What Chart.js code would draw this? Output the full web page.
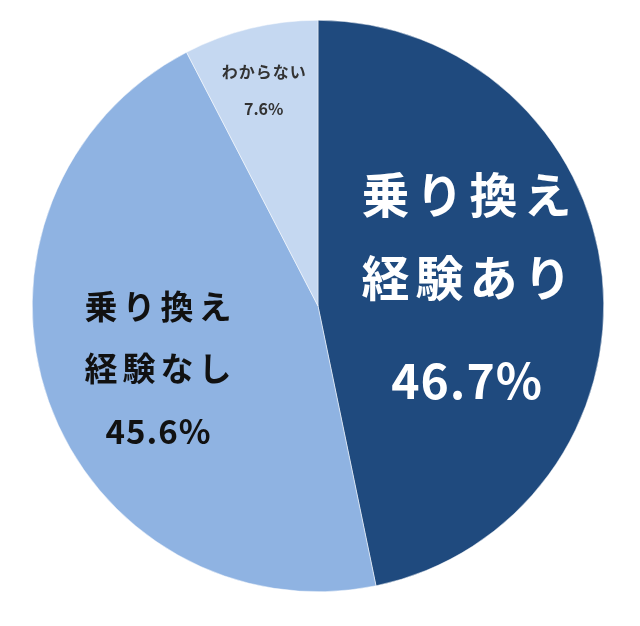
<!DOCTYPE html>
<html>
<head>
<meta charset="utf-8">
<script src="https://cdn.jsdelivr.net/npm/chart.js@4/dist/chart.umd.min.js"></script>
<style>
  html, body { margin: 0; padding: 0; background: #fff; }
  #wrap { width: 640px; height: 626px; }
</style>
</head>
<body>
<div id="wrap"><canvas id="pie"></canvas></div>
<script>
// data
const categories = ["乗り換え経験あり", "乗り換え経験なし", "わからない"];
const shares = [46.7, 45.6, 7.6];
const sliceColors = ["#1f4a7e", "#8fb3e2", "#c5d8f1"];

// label lines per slice (text only)
const labelLines = [
  ["乗り換え", "経験あり", "46.7%"],
  ["乗り換え", "経験なし", "45.6%"],
  ["わからない", "7.6%"]
];

const FONT = '"Noto Sans CJK JP", "Noto Sans", sans-serif';

// where each label sits, as fractions of the radius from the pie centre
const labelStyle = [
  { dx: 0.52, dy: [-0.39, -0.10, 0.26], size: [48, 48, 48], spacing: [6, 6, 1], color: "#ffffff" },
  { dx: -0.56, dy: [0.00, 0.22, 0.44], size: [33, 33, 33], spacing: [5, 5, 1], color: "#111111" },
  { dx: -0.19, dy: [-0.82, -0.69], size: [16, 16], spacing: [1, 0], color: "#333333" }
];

const sliceLabels = {
  id: "sliceLabels",
  afterDatasetsDraw(chart) {
    const ctx = chart.ctx;
    const meta = chart.getDatasetMeta(0);
    const first = meta.data[0];
    const cx = first.x, cy = first.y, r = first.outerRadius;
    ctx.save();
    ctx.textAlign = "center";
    ctx.textBaseline = "middle";
    labelLines.forEach(function (lines, i) {
      const st = labelStyle[i];
      ctx.fillStyle = st.color;
      lines.forEach(function (txt, j) {
        ctx.font = "bold " + st.size[j] + "px " + FONT;
        ctx.letterSpacing = st.spacing[j] + "px";
        ctx.fillText(txt, cx + st.dx * r + st.spacing[j] / 2, cy + st.dy[j] * r);
      });
    });
    ctx.restore();
  }
};

const ctx = document.getElementById("pie").getContext("2d");
let pieChart = new Chart(ctx, {
  type: "pie",
  data: {
    labels: categories,
    datasets: [{
      data: shares,
      backgroundColor: sliceColors,
      borderColor: "#ffffff",
      borderWidth: 0.5
    }]
  },
  options: {
    responsive: true,
    maintainAspectRatio: false,
    animation: false,
    layout: { padding: { left: 32, right: 36, top: 20, bottom: 34 } },
    plugins: {
      legend: { display: false },
      tooltip: { enabled: false }
    }
  },
  plugins: [sliceLabels]
});
</script>
</body>
</html>
